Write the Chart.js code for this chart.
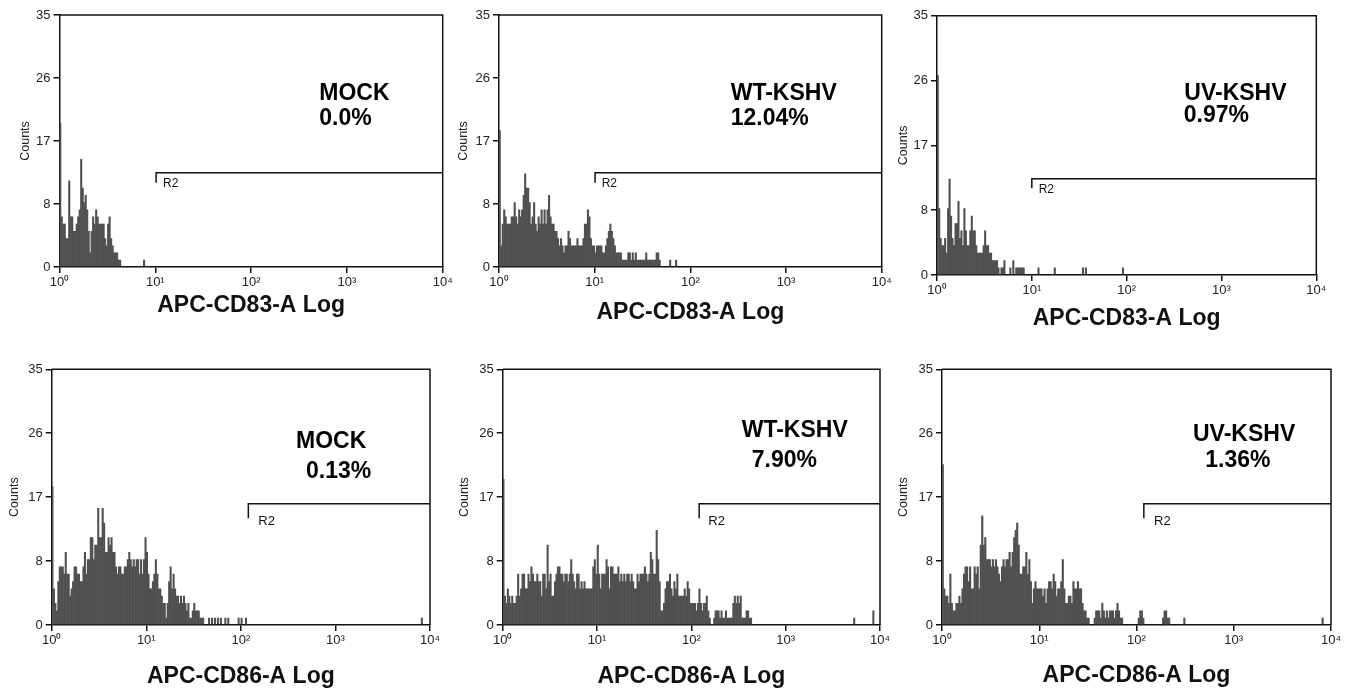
<!DOCTYPE html>
<html>
<head>
<meta charset="utf-8">
<script src="https://cdn.jsdelivr.net/npm/chart.js@4.4.0/dist/chart.umd.min.js"></script>
<style>
  html, body { margin: 0; padding: 0; background: #fff; }
  #wrap { position: relative; width: 1347px; height: 689px; overflow: hidden; background: #fff; }
  #wrap canvas { position: absolute; left: 0; top: 0; }
</style>
</head>
<body>
<div id="wrap"></div>
<script>
// ---------------- DATA ----------------
const CHANNELS_PER_DECADE = 64;               // histogram channels per log decade
const xTickValues = [1, 10, 100, 1000, 10000];
const xTickLabels = ['10\u2070', '10\u00B9', '10\u00B2', '10\u00B3', '10\u2074'];
const yTickValues = [0, 8.75, 17.5, 26.25, 35];
const yTickLabels = ['0', '8', '17', '26', '35'];

const xAxisTitles = ['APC-CD83-A Log', 'APC-CD83-A Log', 'APC-CD83-A Log',
                     'APC-CD86-A Log', 'APC-CD86-A Log', 'APC-CD86-A Log'];
const sampleNames = ['MOCK', 'WT-KSHV', 'UV-KSHV', 'MOCK', 'WT-KSHV', 'UV-KSHV'];
const percentLabels = ['0.0%', '12.04%', '0.97%', '0.13%', '7.90%', '1.36%'];
const gateNames = ['R2', 'R2', 'R2', 'R2', 'R2', 'R2'];
const gateStart = [10.2, 10.1, 10.0, 120, 121, 119];     // fluorescence value where gate R2 begins
const gateLevel = [13.1, 13.1, 13.0, 16.6, 16.6, 16.6];  // counts level of gate bar
const gateTickEnd = [11.7, 11.7, 11.7, 14.6, 14.6, 14.6];

// counts per channel, starting at channel 0 (contiguous)
const mockCD83 = [20,7,6,6,4,4,12,7,7,5,5,6,7,8,15,11,9,10,8,5,2,5,7,6,8,7,6,6,6,6,4,3,6,7,4,3,2,2,2,1,1,0];
const mockCD83Sparse = [[56,1]];

const wtCD83 = [19,3,6,8,7,6,6,6,7,7,9,7,6,8,7,8,10,13,11,11,9,6,7,9,6,5,7,6,8,6,8,6,8,10,7,6,6,5,5,4,
                3,4,3,2,3,3,5,4,3,3,3,3,4,3,3,3,4,6,6,8,7,4,3,3,2,3,3,3,3,2,2,3,4,5,6,5,4,3,2,2,
                2,2,1,1,1,1,2,2,1,2,1,2,1,1,1,1,1,1,2,1,1,1,1,1,1,2,2,1];
const wtCD83Sparse = [[114,1],[118,1]];

const uvCD83 = [27,9,5,4,4,5,3,9,13,8,5,4,7,7,10,5,6,4,9,6,4,4,6,8,6,6,4,3,3,3,3,4,6,4,4,3,3,2,2,2,
                2,1,0,1,1,2,0,0,0,1,0,2,0,1,1,1,1,1,1];
const uvCD83Sparse = [[68,1],[79,1],[98,1],[100,1],[125,1]];

const mockCD86 = [19,5,3,2,6,8,8,8,7,10,7,7,4,5,6,8,8,7,7,6,6,8,10,7,9,9,12,12,9,11,11,16,12,12,16,14,10,10,12,11,
                  12,10,10,8,7,8,8,7,7,8,8,9,10,9,8,9,8,9,9,7,9,7,9,12,10,7,5,5,6,7,9,7,5,5,4,3,3,1,3,6,
                  8,5,7,5,4,4,3,4,3,4,3,2,3,1,1,2,3,2,2,2,1,1,1,0,0,0,1,0,1,0,1,0,1,0,1,0,0,1,0,1];
const mockCD86Sparse = [[126,1],[128,1],[131,1],[250,1]];

const wtCD86 = [20,4,3,5,4,3,4,3,3,4,7,4,5,7,7,5,5,7,6,8,7,6,6,7,6,6,4,7,7,5,11,6,7,4,4,6,7,8,8,7,
                7,6,7,7,6,7,9,7,6,5,7,7,5,6,5,6,5,5,5,5,5,8,9,7,11,7,5,7,7,7,9,8,5,8,8,7,7,7,8,6,
                7,6,7,6,7,7,6,7,6,5,5,7,6,7,7,7,8,7,6,7,10,9,7,7,13,9,6,2,2,3,5,6,6,7,5,4,6,5,7,4,
                4,4,4,5,4,6,5,3,3,3,3,2,3,5,3,2,3,3,4,2,1,0,0,1,2,2,2,1,2,1,1,2,1,1,1,1,3,4,3,4,
                3,4,1,1,1,2,2,1,1];
const wtCD86Sparse = [[238,1],[251,2]];

const uvCD86 = [22,5,4,4,3,7,3,2,2,3,3,4,3,5,7,8,8,6,8,5,5,8,7,8,5,11,15,11,12,9,9,9,8,9,8,9,8,7,6,8,
                9,8,9,9,10,8,10,12,13,14,11,7,7,8,8,10,7,9,6,3,5,6,5,5,5,5,4,5,3,5,6,6,5,7,6,4,5,5,6,9,
                5,3,3,4,4,3,6,5,5,6,5,5,3,2,2,1,1,0,0,0,1,2,2,2,1,3,2,1,2,1,2,2,2,1,2,3,2,1,1];
const uvCD86Sparse = [[129,1],[130,2],[131,2],[132,1],[145,1],[146,2],[147,2],[148,1],[149,1],[159,1],[250,1]];

const histCounts = [mockCD83, wtCD83, uvCD83, mockCD86, wtCD86, uvCD86];
const histSparse = [mockCD83Sparse, wtCD83Sparse, uvCD83Sparse, mockCD86Sparse, wtCD86Sparse, uvCD86Sparse];

// ---------------- LAYOUT / STYLE ----------------
const PAGE_W = 1347, PAGE_H = 689;
const Y_W = 48;
const FONT = "'Liberation Sans', Arial, Helvetica, sans-serif";
const HIST_COLOR = '#505050';
const PANEL_LAYOUT = [
  { area: [59.5, 15, 442.7, 267],  xh: 60, yTitlePad: 7.0, xTitlePad: 10,  name: [319.3, 100],   pct: [319.3, 125],   r2: [163, 186.7],    r2Size: 12 },
  { area: [499, 15, 881.7, 267],   xh: 60, yTitlePad: 5.5, xTitlePad: 3,   name: [730.7, 100],   pct: [730.7, 125],   r2: [601.7, 186.7],  r2Size: 12 },
  { area: [937, 15.7, 1316.3, 275],xh: 60, yTitlePad: 7.2, xTitlePad: 5,   name: [1184.3, 100],  pct: [1183.7, 121.7],r2: [1038.7, 193.3], r2Size: 12 },
  { area: [51.7, 369.3, 430, 625], xh: 64, yTitlePad: 3.8, xTitlePad: 0.8, name: [296, 448.3],   pct: [306, 478.3],   r2: [258.3, 525],    r2Size: 13 },
  { area: [502.7, 369.3, 880, 625],xh: 64, yTitlePad: 2.8, xTitlePad: 0.8, name: [741.7, 436.7], pct: [751.7, 466.7], r2: [708.3, 525],    r2Size: 13 },
  { area: [942, 369.3, 1331, 625], xh: 64, yTitlePad: 2.2, xTitlePad: 1.5, name: [1193, 440.7],  pct: [1205.3, 467.3],r2: [1154, 525],     r2Size: 13 }
];

Chart.defaults.font.family = FONT;
Chart.defaults.color = '#222';

function channelToValue(k) {
  return Math.pow(10, (k + 0.5) / CHANNELS_PER_DECADE);
}

function makeDecor(i) {
  const lay = PANEL_LAYOUT[i];
  return {
    id: 'decor' + i,
    afterDatasetsDraw(chart) {
      const {ctx, chartArea: a, scales: {x, y}} = chart;
      ctx.save();
      // frame top / right
      ctx.strokeStyle = '#111';
      ctx.lineWidth = 1.5;
      ctx.beginPath();
      ctx.moveTo(a.left, a.top);
      ctx.lineTo(a.right, a.top);
      ctx.lineTo(a.right, a.bottom);
      ctx.stroke();
      // gate bracket
      const gx = x.getPixelForValue(gateStart[i]);
      const gy = y.getPixelForValue(gateLevel[i]);
      const gy2 = y.getPixelForValue(gateTickEnd[i]);
      ctx.beginPath();
      ctx.moveTo(gx, gy2);
      ctx.lineTo(gx, gy);
      ctx.lineTo(x.getPixelForValue(x.max), gy);
      ctx.stroke();
      // gate name
      ctx.fillStyle = '#111';
      ctx.textBaseline = 'alphabetic';
      ctx.textAlign = 'left';
      ctx.font = lay.r2Size + 'px ' + FONT;
      ctx.fillText(gateNames[i], lay.r2[0], lay.r2[1]);
      // sample name and percentage
      ctx.fillStyle = '#000';
      ctx.font = 'bold 23px ' + FONT;
      ctx.fillText(sampleNames[i], lay.name[0], lay.name[1]);
      ctx.fillText(percentLabels[i], lay.pct[0], lay.pct[1]);
      ctx.restore();
    }
  };
}

const wrap = document.getElementById('wrap');
histCounts.forEach((counts, i) => {
  const lay = PANEL_LAYOUT[i];
  const [L, T, R, B] = lay.area;
  const cv = document.createElement('canvas');
  cv.width = PAGE_W; cv.height = PAGE_H;
  cv.style.width = PAGE_W + 'px'; cv.style.height = PAGE_H + 'px';
  wrap.appendChild(cv);

  const points = counts.map((c, k) => ({ x: channelToValue(k), y: c }))
    .concat(histSparse[i].map(([k, c]) => ({ x: channelToValue(k), y: c })));

  const axisGrid = { display: true, drawOnChartArea: false, drawTicks: true, tickLength: 6, color: '#111', lineWidth: 1.5, offset: false };
  const axisBorder = { display: true, color: '#111', width: 1.5 };

  new Chart(cv, {
    type: 'bar',
    data: {
      datasets: [{
        data: points,
        backgroundColor: HIST_COLOR,
        borderWidth: 0,
        barPercentage: 1.4,
        categoryPercentage: 1,
        grouped: false
      }]
    },
    options: {
      responsive: false,
      animation: false,
      devicePixelRatio: 1,
      events: [],
      layout: { padding: { left: L - Y_W, top: T, right: PAGE_W - R, bottom: PAGE_H - B - lay.xh } },
      plugins: { legend: { display: false }, tooltip: { enabled: false } },
      scales: {
        x: {
          type: 'logarithmic',
          min: 1, max: 10000,
          offset: false,
          afterFit: (s) => { s.height = lay.xh; },
          afterBuildTicks: (s) => { s.ticks = xTickValues.map(v => ({ value: v })); },
          ticks: {
            callback: (v, idx) => xTickLabels[idx],
            font: { size: 13 }, color: '#222', padding: 2,
            maxRotation: 0, minRotation: 0, autoSkip: false
          },
          grid: axisGrid,
          border: axisBorder,
          title: {
            display: true, text: xAxisTitles[i], color: '#111',
            font: { size: 23, weight: 'bold', lineHeight: 1 },
            padding: { top: 0, bottom: lay.xTitlePad }
          }
        },
        y: {
          type: 'linear',
          min: 0, max: 35,
          afterFit: (s) => { s.width = Y_W; },
          afterBuildTicks: (s) => { s.ticks = yTickValues.map(v => ({ value: v })); },
          ticks: {
            callback: (v, idx) => yTickLabels[idx],
            font: { size: 13 }, color: '#222', padding: 3, autoSkip: false
          },
          grid: axisGrid,
          border: axisBorder,
          title: {
            display: true, text: 'Counts', color: '#222',
            font: { size: 12.5, lineHeight: 1.2 },
            padding: { top: lay.yTitlePad, bottom: 0 }
          }
        }
      }
    },
    plugins: [makeDecor(i)]
  });
});
</script>
</body>
</html>
